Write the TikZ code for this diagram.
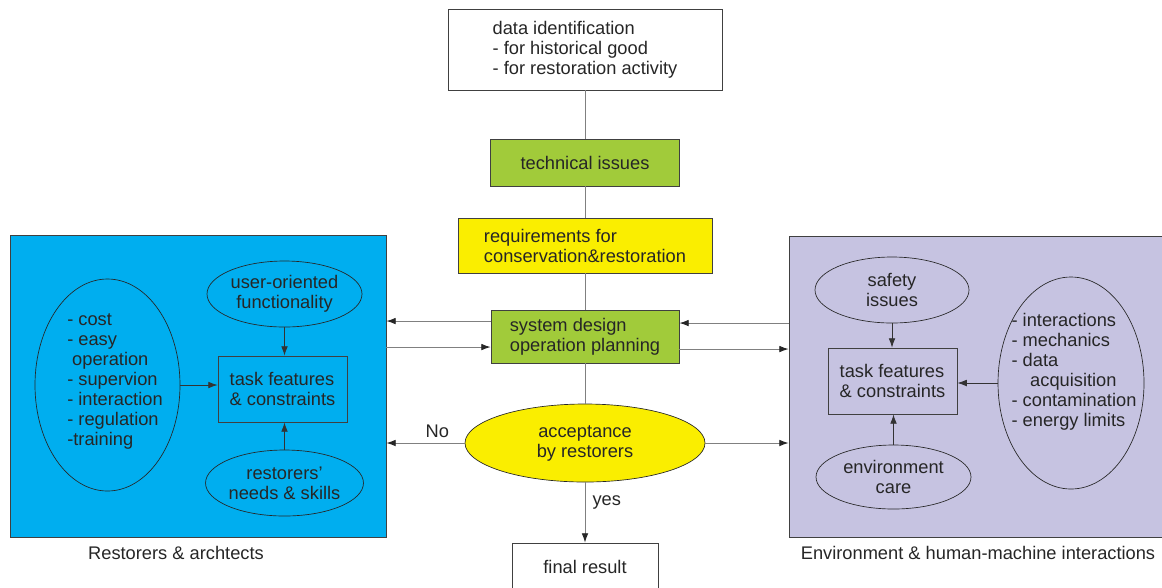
\documentclass[tikz,border=0pt]{standalone}
\usepackage{fontspec}
\setmainfont{Liberation Sans}
\usetikzlibrary{shapes.geometric,arrows.meta}
\definecolor{restblue}{HTML}{00AEEF}
\definecolor{envpurple}{HTML}{C6C3E1}
\definecolor{techgreen}{HTML}{A1CB3A}
\definecolor{reqyellow}{HTML}{FAEE00}
\begin{document}
\begin{tikzpicture}[x=0.75pt, y=-0.75pt,
    every node/.style={font=\fontsize{13.7}{15}\selectfont, text=black!85},
    box/.style={draw=black!75, line width=0.6pt, align=left, inner sep=0pt},
    oval/.style={ellipse, draw=black!85, line width=0.5pt, align=center, inner sep=0pt},
    link/.style={draw=black!50, line width=0.7pt},
    arr/.style={link, -{Latex[length=7pt, width=5pt, color=black!85]}},
    inarr/.style={draw=black!80, line width=0.6pt, -{Latex[length=7pt, width=5pt]}}]
    \useasboundingbox (0,0) rectangle (1162,587);
    \node[box, fill=restblue, minimum width=282pt, minimum height=226.5pt] (rest) at (198,386) {};
    \node[box, fill=envpurple, minimum width=280.5pt, minimum height=225.75pt] (env) at (976,386.5) {};
    \node (restlbl) at (176,553) {Restorers \& archtects};
    \node (envlbl) at (978,553) {Environment \& human-machine interactions};
    \node[box, fill=white, minimum width=205.5pt, minimum height=60.75pt] (data) at (585,49.5) {data identification\\- for historical good\\- for restoration activity};
    \node[box, fill=techgreen, minimum width=141.75pt, minimum height=35.25pt] (tech) at (585,162.5) {technical issues};
    \node[box, fill=reqyellow, minimum width=190.5pt, minimum height=41.25pt] (req) at (585,245.5) {requirements for\\conservation\&restoration};
    \node[box, fill=techgreen, minimum width=141pt, minimum height=39.75pt] (sys) at (585,336.5) {system design\\operation planning};
    \node[oval, fill=reqyellow, minimum width=180pt, minimum height=58.5pt] (accept) at (585,443) {acceptance\\by restorers};
    \node[box, fill=white, minimum width=109.5pt, minimum height=36pt] (final) at (585,567) {final result};
    \draw[link] (data) -- (tech);
    \draw[link] (tech) -- (req);
    \draw[link] (req) -- (sys);
    \draw[link] (sys) -- (accept);
    \draw[arr] (accept) -- (final) node[pos=0.33, right, xshift=2pt] {yes};
    \coordinate (sysleftout) at ([yshift=11.6pt]sys.west);
    \coordinate (sysleftin) at ([yshift=-7.9pt]sys.west);
    \coordinate (sysrightin) at ([yshift=10.1pt]sys.east);
    \coordinate (sysrightout) at ([yshift=-9.4pt]sys.east);
    \draw[arr] (sysleftout) -- (sysleftout -| rest.east);
    \draw[arr] (sysleftin -| rest.east) -- (sysleftin);
    \draw[arr] (sysrightin -| env.west) -- (sysrightin);
    \draw[arr] (sysrightout) -- (sysrightout -| env.west);
    \draw[arr] (accept.west) -- (accept.west -| rest.east) node[pos=0.35, above] {No};
    \draw[arr] (accept.east) -- (accept.east -| env.west);
    \node[oval, minimum width=108.75pt, minimum height=159pt] (costs) at (107.5,385) {};
    \node[align=left] (coststxt) at (115,381.5) {- cost\\- easy\\\hspace*{3.7pt}operation\\- supervion\\- interaction\\- regulation\\-training};
    \node[oval, minimum width=116.25pt, minimum height=49.5pt] (useror) at (284.5,294) {user-oriented\\functionality};
    \node[box, minimum width=96.75pt, minimum height=49.5pt] (resttask) at (282.5,389) {task features\\\& constraints};
    \node[oval, minimum width=116.25pt, minimum height=49.5pt] (needs) at (284.5,483) {restorers'\\needs \& skills};
    \draw[inarr] (useror.south) -- (useror.south |- resttask.north);
    \draw[inarr] (needs.north) -- (needs.north |- resttask.south);
    \draw[inarr] (costs.east) -- (costs.east -| resttask.west);
    \node[oval, minimum width=115.5pt, minimum height=49.5pt] (safety) at (892,290) {safety\\issues};
    \node[box, minimum width=96.75pt, minimum height=49.5pt] (envtask) at (892.5,381) {task features\\\& constraints};
    \node[oval, minimum width=116.25pt, minimum height=48pt] (care) at (893.5,477) {environment\\care};
    \node[oval, minimum width=109.5pt, minimum height=159pt] (hmi) at (1071,383) {};
    \node[align=left] (hmitxt) at (1074,372) {- interactions\\- mechanics\\- data\\\hspace*{14pt}acquisition\\- contamination\\- energy limits};
    \draw[inarr] (safety.south) -- (safety.south |- envtask.north);
    \draw[inarr] (care.north) -- (care.north |- envtask.south);
    \draw[inarr] (hmi.west) -- (hmi.west -| envtask.east);
\end{tikzpicture}
\end{document}
